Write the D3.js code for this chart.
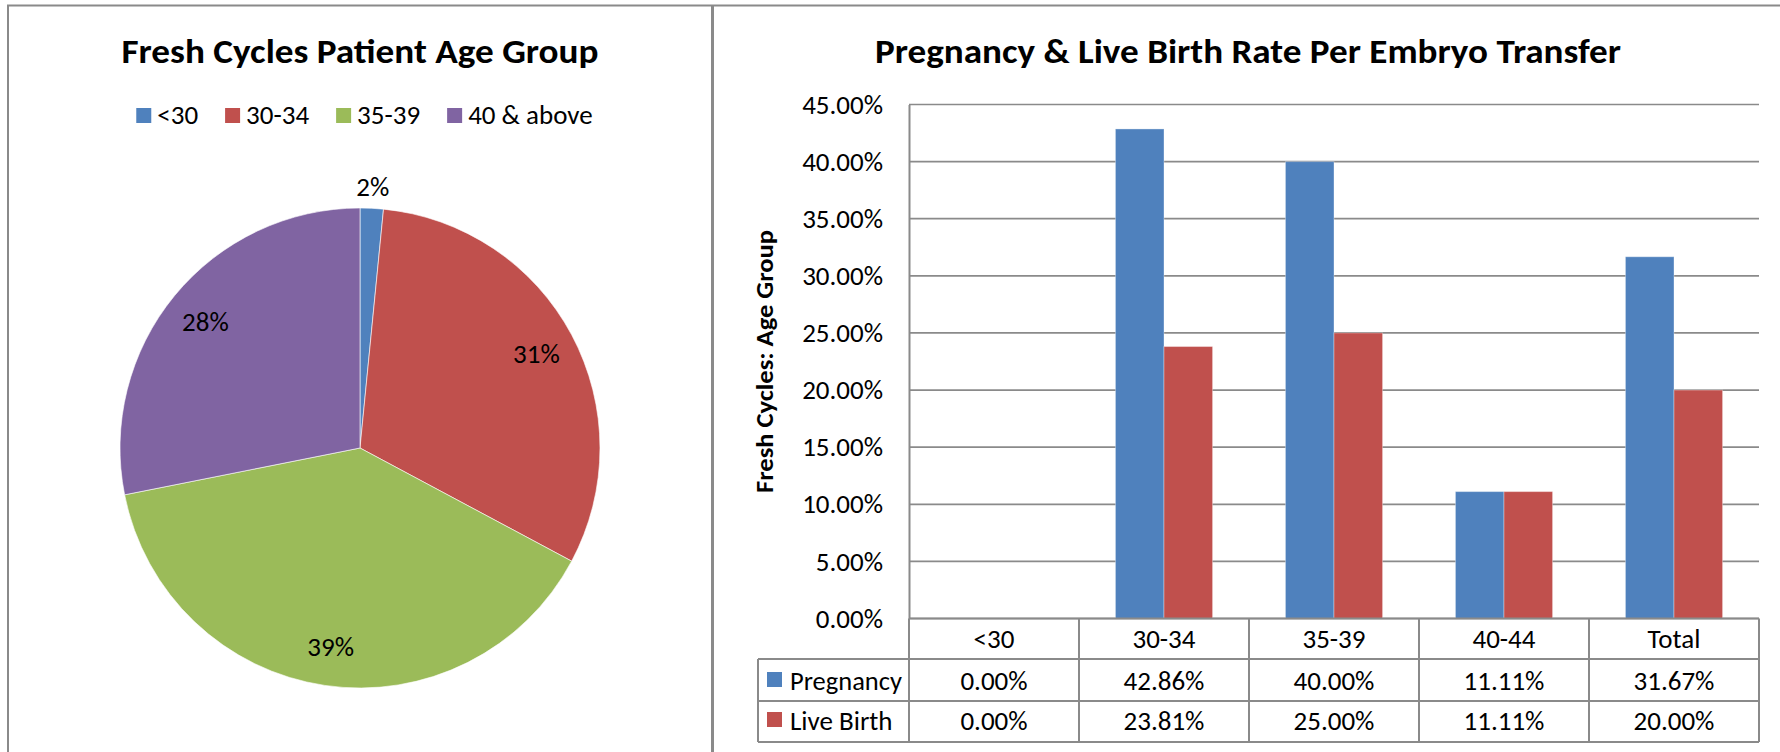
<!DOCTYPE html>
<html><head><meta charset="utf-8">
<script src="https://cdn.jsdelivr.net/npm/d3@7"></script>
<style>
html,body{margin:0;padding:0;background:#fff;}
svg{display:block;}
</style></head>
<body><svg id="chart" width="1780" height="752"></svg>
<script>
// ---------------- data ----------------
const pieCategories = ["<30", "30-34", "35-39", "40 & above"];
const pieValues = [1, 20, 25, 18];            // patients per age group (2%, 31%, 39%, 28%)
const pieColors = ["#4F81BD", "#C0504D", "#9BBB59", "#8064A2"];

const barCategories = ["<30", "30-34", "35-39", "40-44", "Total"];
const seriesNames = ["Pregnancy", "Live Birth"];
const pregnancyRates = [0.00, 42.86, 40.00, 11.11, 31.67];
const liveBirthRates = [0.00, 23.81, 25.00, 11.11, 20.00];
const seriesColors = ["#4F81BD", "#C0504D"];
const yTickValues = [0, 5, 10, 15, 20, 25, 30, 35, 40, 45];

const pieTitle = "Fresh Cycles Patient Age Group";
const barTitle = "Pregnancy & Live Birth Rate Per Embryo Transfer";
const yAxisTitle = "Fresh Cycles: Age Group";

// ---------------- style ----------------
const FONT = "Carlito, Calibri, Lato, sans-serif";
const LABEL_SIZE = 27;
const GRID = "#8a8a8a";

const svg = d3.select("#chart");

// panel frames
svg.append("line").attr("x1", 7).attr("x2", 1780).attr("y1", 5.5).attr("y2", 5.5)
  .attr("stroke", GRID).attr("stroke-width", 2);
svg.append("line").attr("x1", 8).attr("x2", 8).attr("y1", 5).attr("y2", 752)
  .attr("stroke", GRID).attr("stroke-width", 2);
svg.append("line").attr("x1", 712.5).attr("x2", 712.5).attr("y1", 5).attr("y2", 752)
  .attr("stroke", GRID).attr("stroke-width", 3);

// ================= PIE =================
const pieCx = 360, pieCy = 448, R = 240;

svg.append("text").attr("x", 360).attr("y", 63)
  .attr("text-anchor", "middle").attr("font-family", FONT).attr("font-weight", "bold")
  .attr("font-size", 34).attr("textLength", 477).attr("lengthAdjust", "spacingAndGlyphs")
  .attr("fill", "#000").text(pieTitle);

// legend
const legend = svg.append("g");
let cursor = 0;
pieCategories.forEach((c, i) => {
  const g = legend.append("g").attr("transform", `translate(${cursor},0)`);
  g.append("rect").attr("x", 0).attr("y", -16).attr("width", 15).attr("height", 15).attr("fill", pieColors[i]);
  const t = g.append("text").attr("x", 21).attr("y", 0)
    .attr("font-family", FONT).attr("font-size", LABEL_SIZE).attr("fill", "#000").text(c);
  const w = t.node().getComputedTextLength();
  cursor += 21 + w + 27;
});
const legendW = cursor - 27;
legend.attr("transform", `translate(${364.5 - legendW / 2},124)`);

const pieTotal = d3.sum(pieValues);
const pieGen = d3.pie().sort(null).value(d => d);
const arcsData = pieGen(pieValues);
const arc = d3.arc().innerRadius(0).outerRadius(R);
const labelIn = d3.arc().innerRadius(200).outerRadius(200);
const labelOut = d3.arc().innerRadius(262).outerRadius(262);
const pct = d3.format(".0%");

const pieG = svg.append("g").attr("transform", `translate(${pieCx},${pieCy})`);
pieG.selectAll("path").data(arcsData).join("path")
  .attr("d", arc).attr("fill", (d, i) => pieColors[i])
  .attr("stroke", "#fff").attr("stroke-width", 0.6);
pieG.selectAll("text").data(arcsData).join("text")
  .attr("transform", d => {
    const c = (d.value / pieTotal < 0.05 ? labelOut : labelIn).centroid(d);
    return `translate(${c[0]},${c[1]})`;
  })
  .attr("text-anchor", "middle").attr("dy", "0.36em")
  .attr("font-family", FONT).attr("font-size", LABEL_SIZE).attr("fill", "#000")
  .text(d => pct(d.value / pieTotal));

// ================= BAR =================
const plotL = 909, plotR = 1759, plotTop = 104.5, plotBottom = 618.5;

svg.append("text").attr("x", 1248).attr("y", 63)
  .attr("text-anchor", "middle").attr("font-family", FONT).attr("font-weight", "bold")
  .attr("font-size", 34).attr("textLength", 746).attr("lengthAdjust", "spacingAndGlyphs")
  .attr("fill", "#000").text(barTitle);

const x0 = d3.scaleBand().domain(barCategories).range([plotL, plotR]);
const x1 = d3.scaleBand().domain(seriesNames).range([0, x0.bandwidth()]).paddingInner(0).paddingOuter(0.75);
const y = d3.scaleLinear().domain([0, 45]).range([plotBottom, plotTop]);

// gridlines
svg.append("g").selectAll("line").data(yTickValues).join("line")
  .attr("x1", plotL).attr("x2", plotR)
  .attr("y1", d => y(d)).attr("y2", d => y(d))
  .attr("stroke", GRID).attr("stroke-width", 1.7);

// bars
const seriesData = [pregnancyRates, liveBirthRates];
const barG = svg.append("g");
barCategories.forEach((cat, ci) => {
  seriesNames.forEach((s, si) => {
    const v = seriesData[si][ci];
    barG.append("rect")
      .attr("x", x0(cat) + x1(s))
      .attr("y", y(v))
      .attr("width", x1.bandwidth())
      .attr("height", y(0) - y(v))
      .attr("fill", seriesColors[si])
      .attr("stroke", v > 0 ? "rgba(255,255,255,0.35)" : "none")
      .attr("stroke-width", 1);
  });
});

// y axis
const yAxis = d3.axisLeft(y).tickValues(yTickValues).tickSize(0).tickSizeOuter(0)
  .tickPadding(26).tickFormat(d => d.toFixed(2) + "%");
const yAxisG = svg.append("g").attr("transform", `translate(${plotL},0)`).call(yAxis);
yAxisG.select(".domain").attr("stroke", GRID).attr("stroke-width", 2);
yAxisG.selectAll("text").attr("font-family", FONT).attr("font-size", LABEL_SIZE).attr("fill", "#000");

// y axis title
svg.append("text").attr("transform", `translate(773,${(plotTop + plotBottom) / 2}) rotate(-90)`)
  .attr("text-anchor", "middle").attr("font-family", FONT).attr("font-weight", "bold")
  .attr("font-size", 25).attr("textLength", 263).attr("lengthAdjust", "spacingAndGlyphs")
  .attr("fill", "#000").text(yAxisTitle);

// data table
const rowY = [618.5, 659, 701, 742];
const tableL = 758;
const tG = svg.append("g");
tG.append("line").attr("x1", plotL).attr("x2", plotR).attr("y1", rowY[0]).attr("y2", rowY[0])
  .attr("stroke", GRID).attr("stroke-width", 2);
[1, 2, 3].forEach(r => {
  tG.append("line").attr("x1", tableL).attr("x2", plotR).attr("y1", rowY[r]).attr("y2", rowY[r])
    .attr("stroke", GRID).attr("stroke-width", 2);
});
const colEdges = barCategories.map(c => x0(c)).concat([x0(barCategories[barCategories.length - 1]) + x0.bandwidth()]);
colEdges.forEach(xv => {
  tG.append("line").attr("x1", xv).attr("x2", xv).attr("y1", rowY[0]).attr("y2", rowY[3])
    .attr("stroke", GRID).attr("stroke-width", 2);
});
tG.append("line").attr("x1", tableL).attr("x2", tableL).attr("y1", rowY[1]).attr("y2", rowY[3])
  .attr("stroke", GRID).attr("stroke-width", 2);

tG.selectAll("text.cat").data(barCategories).join("text").attr("class", "cat")
  .attr("x", d => x0(d) + x0.bandwidth() / 2).attr("y", 648)
  .attr("text-anchor", "middle").attr("font-family", FONT).attr("font-size", LABEL_SIZE)
  .attr("fill", "#000").text(d => d);

const rowBase = [690, 730];
seriesNames.forEach((s, si) => {
  tG.append("rect").attr("x", 767).attr("y", rowBase[si] - 18).attr("width", 15).attr("height", 15)
    .attr("fill", seriesColors[si]);
  const lt = tG.append("text").attr("x", 790).attr("y", rowBase[si])
    .attr("font-family", FONT).attr("font-size", LABEL_SIZE).attr("fill", "#000").text(s);
  if (lt.node().getComputedTextLength() > 112) {
    lt.attr("textLength", 112).attr("lengthAdjust", "spacingAndGlyphs");
  }
  barCategories.forEach((c, ci) => {
    tG.append("text").attr("x", x0(c) + x0.bandwidth() / 2).attr("y", rowBase[si])
      .attr("text-anchor", "middle").attr("font-family", FONT).attr("font-size", LABEL_SIZE)
      .attr("fill", "#000").text(seriesData[si][ci].toFixed(2) + "%");
  });
});
</script>
</body></html>
